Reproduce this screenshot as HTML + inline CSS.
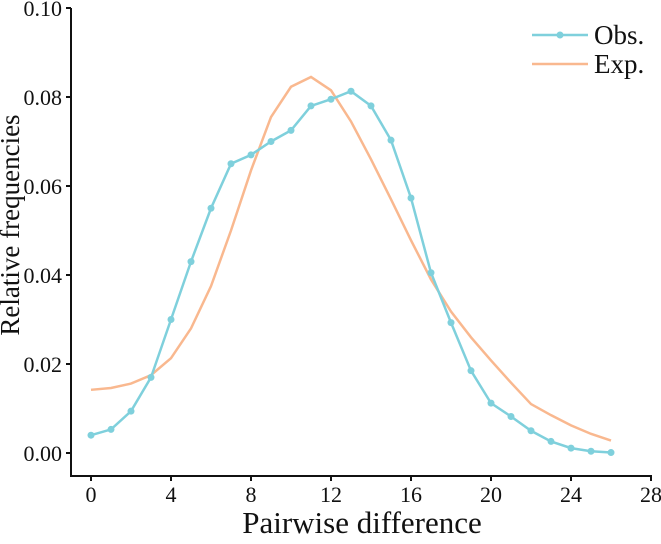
<!DOCTYPE html>
<html><head><meta charset="utf-8"><style>
body{margin:0;background:#fff}
svg text{font-family:"Liberation Serif",serif;fill:#111}
</style></head><body>
<svg id="c" width="661" height="539"></svg>
<script>
const xTicks=[0,4,8,12,16,20,24,28];
const yTicks=[0,0.02,0.04,0.06,0.08,0.10];
const yTickLabels=["0.00","0.02","0.04","0.06","0.08","0.10"];
const diffs=[0,1,2,3,4,5,6,7,8,9,10,11,12,13,14,15,16,17,18,19,20,21,22,23,24,25,26];
const obs=[0.004,0.0053,0.0094,0.017,0.030,0.043,0.055,0.065,0.067,0.070,0.0725,0.078,0.0795,0.0813,0.078,0.0703,0.0573,0.0405,0.0293,0.0185,0.0112,0.0082,0.005,0.0026,0.0011,0.0004,0.0001];
const exp=[0.0142,0.0146,0.0156,0.0175,0.0213,0.028,0.0375,0.050,0.0635,0.0755,0.0823,0.0845,0.0815,0.0745,0.066,0.057,0.0478,0.039,0.0318,0.026,0.0208,0.0158,0.011,0.0085,0.0062,0.0043,0.0028];
const NS="http://www.w3.org/2000/svg",svg=document.getElementById('c');
const X=v=>91+v*20, Y=v=>453-v*4450;
function mk(t,a,p){const e=document.createElementNS(NS,t);for(const k in a)e.setAttribute(k,a[k]);(p||svg).appendChild(e);return e;}
const ax=mk('g',{});


mk('path',{d:'M71,8 V476 H652',fill:'none',stroke:'#111','stroke-width':2},ax);
xTicks.forEach(t=>{mk('line',{x1:X(t),x2:X(t),y1:476,y2:481,stroke:'#111','stroke-width':2},ax);
const tx=mk('text',{x:X(t),y:502,'text-anchor':'middle','font-size':22},ax);tx.textContent=t;

});
yTicks.forEach((t,i)=>{mk('line',{x1:66,x2:71,y1:Y(t),y2:Y(t),stroke:'#111','stroke-width':2},ax);
const tx=mk('text',{x:62,y:Y(t)+8,'text-anchor':'end','font-size':22},ax);tx.textContent=yTickLabels[i];

});
const xl=mk('text',{x:362,y:533,'text-anchor':'middle','font-size':31});xl.textContent='Pairwise difference';


const yl=mk('text',{x:0,y:0,'text-anchor':'middle','font-size':27,transform:'translate(19,225) rotate(-90)'});yl.textContent='Relative frequencies';


const ep=mk('polyline',{points:diffs.map((d,i)=>X(d)+','+Y(exp[i])).join(' '),fill:'none',stroke:'#f9b88f','stroke-width':2.5});


const op=mk('polyline',{points:diffs.map((d,i)=>X(d)+','+Y(obs[i])).join(' '),fill:'none',stroke:'#7fd0dc','stroke-width':2.5});


diffs.forEach((d,i)=>{const c=mk('circle',{cx:X(d),cy:Y(obs[i]),r:3.5,fill:'#7fd0dc'});

});
const lg=mk('g',{});


mk('line',{x1:532,x2:588,y1:35,y2:35,stroke:'#7fd0dc','stroke-width':2.5},lg);
mk('circle',{cx:560,cy:35,r:3.5,fill:'#7fd0dc'},lg);
mk('line',{x1:532,x2:588,y1:64,y2:64,stroke:'#f9b88f','stroke-width':2.5},lg);
let t1=mk('text',{x:594,y:44,'font-size':27},lg);t1.textContent='Obs.';
let t2=mk('text',{x:594,y:73,'font-size':27},lg);t2.textContent='Exp.';
</script>
</body></html>
